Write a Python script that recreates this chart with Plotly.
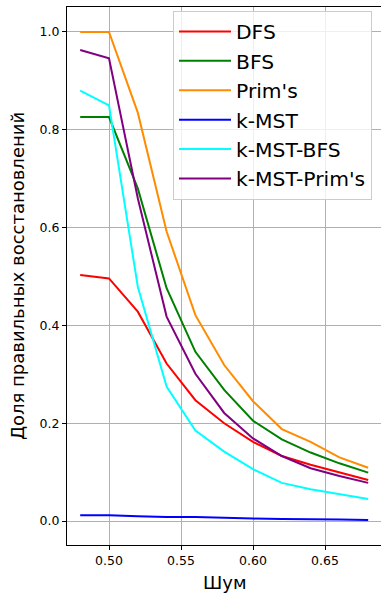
import plotly.graph_objects as go

noise = [0.48, 0.50, 0.52, 0.54, 0.56, 0.58, 0.60, 0.62, 0.64, 0.66, 0.68]

dfs = [0.503, 0.496, 0.428, 0.322, 0.247, 0.200, 0.162, 0.133, 0.115, 0.099, 0.084]
bfs = [0.826, 0.826, 0.680, 0.476, 0.346, 0.268, 0.205, 0.167, 0.140, 0.118, 0.099]
prims = [1.000, 1.000, 0.835, 0.592, 0.421, 0.319, 0.245, 0.188, 0.162, 0.130, 0.109]
kmst = [0.012, 0.012, 0.010, 0.008, 0.008, 0.006, 0.005, 0.004, 0.004, 0.003, 0.002]
kmst_bfs = [0.880, 0.850, 0.479, 0.275, 0.185, 0.142, 0.106, 0.078, 0.065, 0.055, 0.045]
kmst_prims = [0.963, 0.946, 0.660, 0.418, 0.301, 0.221, 0.169, 0.133, 0.108, 0.092, 0.078]

x_title = "Шум"
y_title = "Доля правильных восстановлений"

series = [
    ("DFS", dfs, "red"),
    ("BFS", bfs, "green"),
    ("Prim's", prims, "darkorange"),
    ("k-MST", kmst, "blue"),
    ("k-MST-BFS", kmst_bfs, "cyan"),
    ("k-MST-Prim's", kmst_prims, "purple"),
]

fig = go.Figure()
for name, vals, color in series:
    fig.add_trace(go.Scatter(x=noise, y=vals, mode="lines", name=name,
                             line=dict(color=color, width=2)))

font = "DejaVu Sans, sans-serif"
axis_common = dict(
    showline=True, linecolor="black", linewidth=1.2, mirror=True,
    showgrid=True, gridcolor="#b0b0b0", gridwidth=1,
    ticks="outside", ticklen=4, tickcolor="black", tickwidth=1,
    zeroline=False, automargin=False,
    tickfont=dict(family=font, size=12.5, color="black"),
)

fig.update_layout(
    width=381, height=593,
    margin=dict(l=67, r=0, t=7, b=48),
    paper_bgcolor="white", plot_bgcolor="white",
    font=dict(family=font, color="black"),
    xaxis=dict(range=[0.47083, 0.68889], tickvals=[0.50, 0.55, 0.60, 0.65],
               ticktext=["0.50", "0.55", "0.60", "0.65"], **axis_common),
    yaxis=dict(range=[-0.049, 1.051], tickvals=[0.0, 0.2, 0.4, 0.6, 0.8, 1.0],
               ticktext=["0.0", "0.2", "0.4", "0.6", "0.8", "1.0"], **axis_common),
    legend=dict(x=0.3376, y=0.993, xanchor="left", yanchor="top",
                bgcolor="rgba(255,255,255,0.8)", bordercolor="#cccccc", borderwidth=1,
                font=dict(family=font, size=20.3, color="black"),
                itemwidth=52, tracegroupgap=0),
    showlegend=True,
    annotations=[
        dict(text=x_title, xref="paper", yref="paper", x=0.5, y=-0.0697,
             xanchor="center", yanchor="middle", showarrow=False,
             font=dict(family=font, size=18, color="black")),
        dict(text=y_title, xref="paper", yref="paper", x=-0.159, y=0.5,
             xanchor="center", yanchor="middle", showarrow=False, textangle=-90,
             font=dict(family=font, size=18, color="black")),
    ],
)

fig.write_html("out.html", config={"displayModeBar": False},
               post_script="document.body.style.margin='0';document.body.style.overflow='hidden';")
